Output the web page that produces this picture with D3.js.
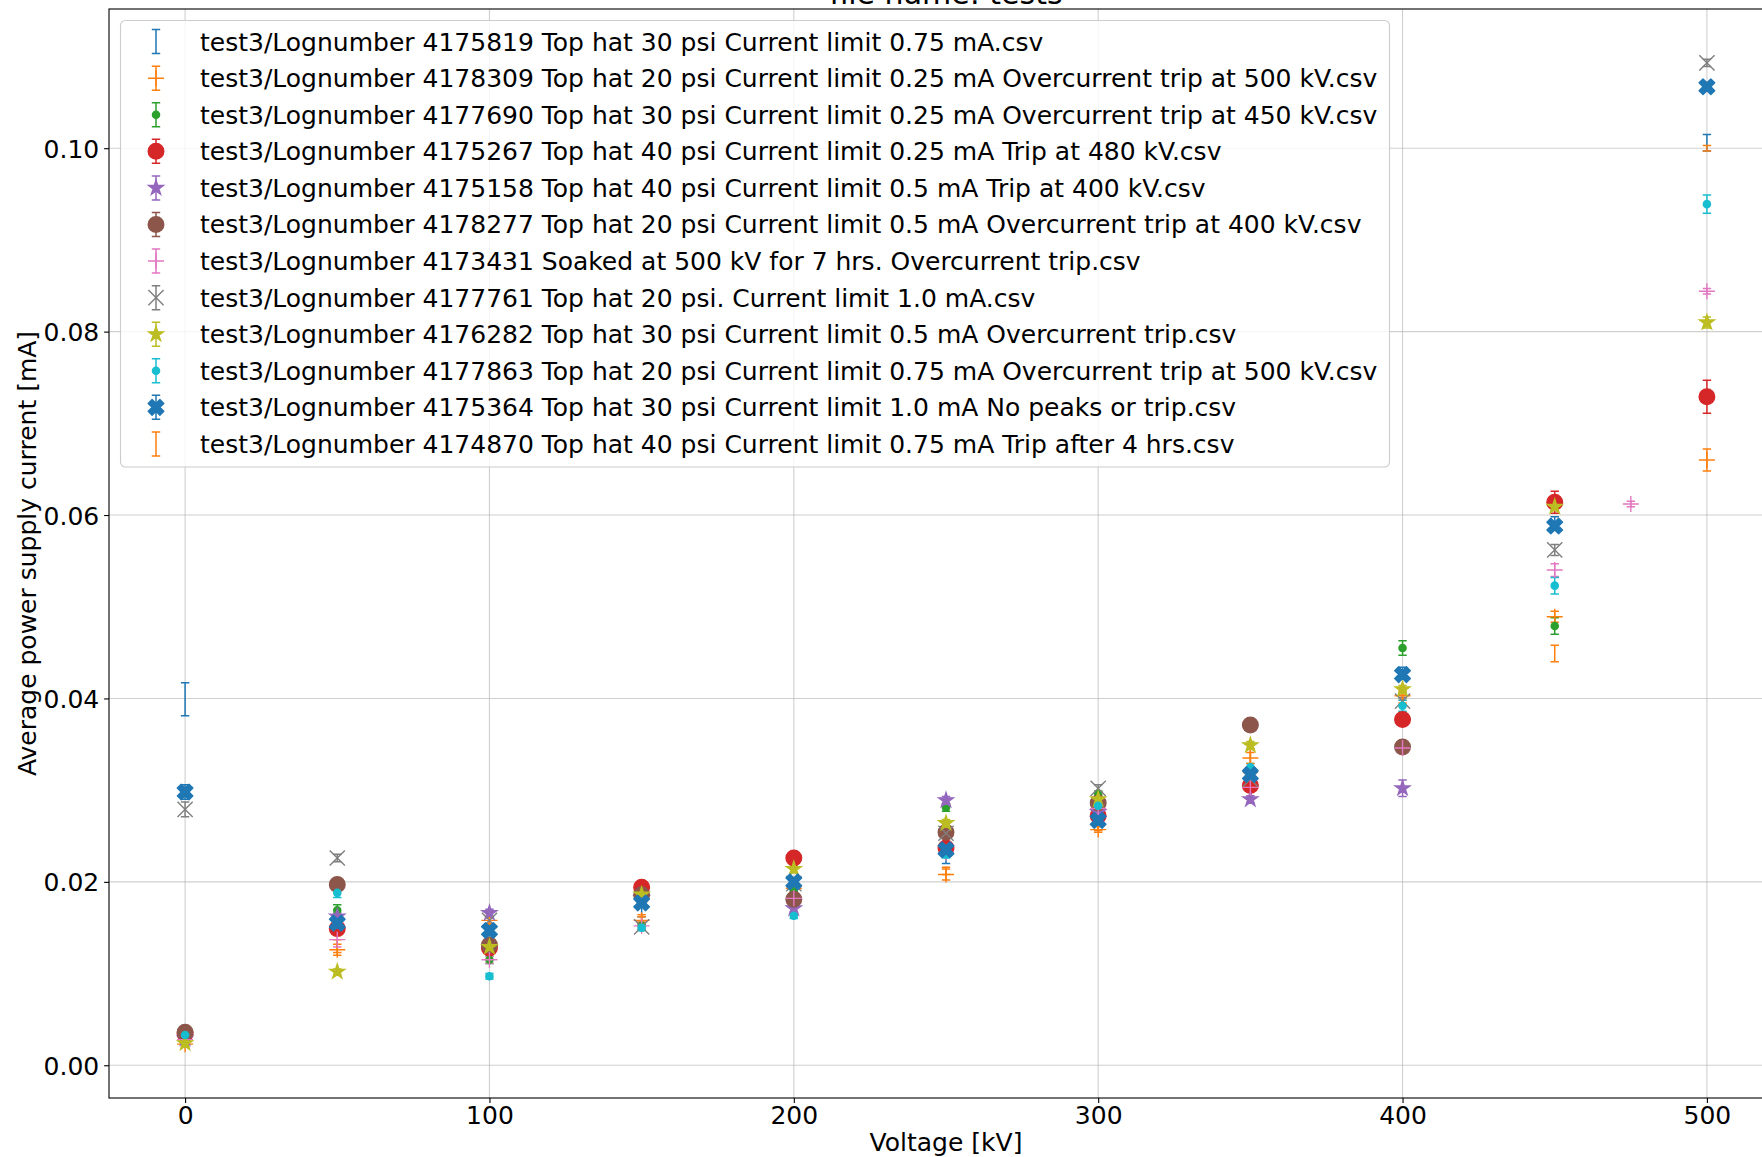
<!DOCTYPE html>
<html><head><meta charset="utf-8">
<script src="https://cdn.jsdelivr.net/npm/d3@7"></script>
<style>body{margin:0;background:#fff;overflow:hidden} svg{display:block;font-family:"DejaVu Sans",sans-serif;}</style>
</head><body><svg id="c" width="1762" height="1157"></svg>
<script>
// ---------------- data ----------------
const chartTitle = "file name: tests";
const xLabel = "Voltage [kV]";
const yLabel = "Average power supply current [mA]";
const xTicks = [0, 100, 200, 300, 400, 500];
const yTicks = [0.00, 0.02, 0.04, 0.06, 0.08, 0.10];

const voltages = [0, 50, 100, 150, 200, 250, 300, 350, 400, 450, 500];
const voltagesSoak = [0, 50, 100, 150, 200, 250, 300, 350, 400, 450, 475, 500];

const seriesNames = [
  "test3/Lognumber 4175819 Top hat 30 psi Current limit 0.75 mA.csv",
  "test3/Lognumber 4178309 Top hat 20 psi Current limit 0.25 mA Overcurrent trip at 500 kV.csv",
  "test3/Lognumber 4177690 Top hat 30 psi Current limit 0.25 mA Overcurrent trip at 450 kV.csv",
  "test3/Lognumber 4175267 Top hat 40 psi Current limit 0.25 mA Trip at 480 kV.csv",
  "test3/Lognumber 4175158 Top hat 40 psi Current limit 0.5 mA Trip at 400 kV.csv",
  "test3/Lognumber 4178277 Top hat 20 psi Current limit 0.5 mA Overcurrent trip at 400 kV.csv",
  "test3/Lognumber 4173431 Soaked at 500 kV for 7 hrs. Overcurrent trip.csv",
  "test3/Lognumber 4177761 Top hat 20 psi. Current limit 1.0 mA.csv",
  "test3/Lognumber 4176282 Top hat 30 psi Current limit 0.5 mA Overcurrent trip.csv",
  "test3/Lognumber 4177863 Top hat 20 psi Current limit 0.75 mA Overcurrent trip at 500 kV.csv",
  "test3/Lognumber 4175364 Top hat 30 psi Current limit 1.0 mA No peaks or trip.csv",
  "test3/Lognumber 4174870 Top hat 40 psi Current limit 0.75 mA Trip after 4 hrs.csv"
];
const seriesColors = ["#1f77b4","#ff7f0e","#2ca02c","#d62728","#9467bd","#8c564b","#e377c2","#7f7f7f","#bcbd22","#17becf","#1f77b4","#ff7f0e"];
const seriesMarkers = ["none","+",".","o","*","o","+","x","*",".","X","none"];

const cur4175819 = [0.0399, 0.0155, 0.0145, 0.0172, 0.0200, 0.0228, 0.0266, 0.0318, 0.0428, 0.0592, 0.1006];
const err4175819 = [0.0018, 0.0004, 0.0004, 0.0010, 0.0004, 0.0008, 0.0004, 0.0005, 0.0006, 0.0006, 0.0009];
const cur4178309 = [0.0023, 0.0126, 0.0158, 0.0158, 0.0193, 0.0208, 0.0257, 0.0335, 0.0403, 0.0489, 0.0660];
const err4178309 = [0.0003, 0.0006, 0.0004, 0.0004, 0.0004, 0.0006, 0.0003, 0.0010, 0.0005, 0.0006, 0.0012];
const cur4177690 = [0.0030, 0.0169, 0.0115, 0.0152, 0.0190, 0.0281, 0.0296, 0.0312, 0.0455, 0.0479];
const err4177690 = [0.0003, 0.0006, 0.0004, 0.0004, 0.0004, 0.0004, 0.0003, 0.0004, 0.0008, 0.0009];
const cur4175267 = [0.0034, 0.0149, 0.0128, 0.0194, 0.0226, 0.0237, 0.0272, 0.0305, 0.0377, 0.0614, 0.0729];
const err4175267 = [0.0003, 0.0004, 0.0004, 0.0004, 0.0004, 0.0005, 0.0005, 0.0005, 0.0005, 0.0012, 0.0018];
const cur4175158 = [0.0029, 0.0162, 0.0166, 0.0182, 0.0171, 0.0289, 0.0276, 0.0290, 0.0302];
const err4175158 = [0.0003, 0.0004, 0.0004, 0.0004, 0.0004, 0.0004, 0.0004, 0.0004, 0.0009];
const cur4178277 = [0.0036, 0.0197, 0.0131, 0.0186, 0.0181, 0.0254, 0.0286, 0.0371, 0.0347];
const err4178277 = [0.0003, 0.0005, 0.0004, 0.0004, 0.0004, 0.0004, 0.0004, 0.0004, 0.0005];
const cur4173431 = [0.0028, 0.0137, 0.0115, 0.0152, 0.0182, 0.0232, 0.0280, 0.0303, 0.0346, 0.0540, 0.0612, 0.0844];
const err4173431 = [0.0003, 0.0008, 0.0004, 0.0004, 0.0004, 0.0004, 0.0004, 0.0004, 0.0004, 0.0007, 0.0003, 0.0003];
const cur4177761 = [0.0279, 0.0226, 0.0158, 0.0151, 0.0198, 0.0253, 0.0302, 0.0312, 0.0397, 0.0562, 0.1093];
const err4177761 = [0.0008, 0.0004, 0.0004, 0.0004, 0.0004, 0.0004, 0.0004, 0.0004, 0.0004, 0.0006, 0.0004];
const cur4176282 = [0.0024, 0.0102, 0.0129, 0.0186, 0.0214, 0.0264, 0.0290, 0.0349, 0.0410, 0.0609, 0.0810];
const err4176282 = [0.0003, 0.0003, 0.0004, 0.0004, 0.0004, 0.0004, 0.0004, 0.0004, 0.0004, 0.0004, 0.0006];
const cur4177863 = [0.0033, 0.0188, 0.0097, 0.0150, 0.0163, 0.0230, 0.0283, 0.0325, 0.0392, 0.0523, 0.0939];
const err4177863 = [0.0003, 0.0005, 0.0003, 0.0003, 0.0003, 0.0004, 0.0004, 0.0004, 0.0006, 0.0009, 0.0010];
const cur4175364 = [0.0298, 0.0155, 0.0147, 0.0177, 0.0200, 0.0235, 0.0267, 0.0317, 0.0426, 0.0588, 0.1067];
const err4175364 = [0.0008, 0.0004, 0.0004, 0.0004, 0.0004, 0.0004, 0.0004, 0.0004, 0.0004, 0.0004, 0.0003];
const cur4174870 = [0.0023, 0.0130, 0.0158, 0.0160, 0.0192, 0.0212, 0.0260, 0.0335, 0.0400, 0.0449, 0.1000];
const err4174870 = [0.0003, 0.0007, 0.0004, 0.0004, 0.0004, 0.0004, 0.0004, 0.0006, 0.0005, 0.0009, 0.0003];

const seriesCurrents = [cur4175819, cur4178309, cur4177690, cur4175267, cur4175158, cur4178277, cur4173431, cur4177761, cur4176282, cur4177863, cur4175364, cur4174870];
const seriesErrors = [err4175819, err4178309, err4177690, err4175267, err4175158, err4178277, err4173431, err4177761, err4176282, err4177863, err4175364, err4174870];
const seriesVoltages = [voltages, voltages, voltages, voltages, voltages, voltages, voltagesSoak, voltages, voltages, voltages, voltages, voltages];

// --------------- layout ---------------
const W = 1762, H = 1157;
const ax = {left: 109, top: 9, right: 1783, bottom: 1098};
const FS = 25;

const x = d3.scaleLinear().domain([-25, 525]).range([ax.left, ax.right]);
const y = d3.scaleLinear().domain([-0.00357, 0.11518]).range([ax.bottom, ax.top]);

const svg = d3.select("#c");
svg.append("rect").attr("width", W).attr("height", H).attr("fill", "#fff");

const clipId = "plotclip";
svg.append("clipPath").attr("id", clipId).append("rect")
  .attr("x", ax.left).attr("y", ax.top).attr("width", ax.right - ax.left).attr("height", ax.bottom - ax.top);

// grid
const grid = svg.append("g").attr("clip-path", `url(#${clipId})`);
grid.selectAll("line.gx").data(xTicks).join("line")
  .attr("x1", d => x(d)).attr("x2", d => x(d)).attr("y1", ax.top).attr("y2", ax.bottom)
  .attr("stroke", "#b0b0b0").attr("stroke-width", 1.1).attr("stroke-opacity", 0.6);
grid.selectAll("line.gy").data(yTicks).join("line")
  .attr("y1", d => y(d)).attr("y2", d => y(d)).attr("x1", ax.left).attr("x2", ax.right)
  .attr("stroke", "#b0b0b0").attr("stroke-width", 1.1).attr("stroke-opacity", 0.6);

// axes
const xAxis = d3.axisBottom(x).tickValues(xTicks).tickFormat(d3.format("d")).tickSizeInner(4.9).tickSizeOuter(0).tickPadding(4.9);
const yAxis = d3.axisLeft(y).tickValues(yTicks).tickFormat(d3.format(".2f")).tickSizeInner(4.9).tickSizeOuter(0).tickPadding(4.9);
const gx = svg.append("g").attr("transform", `translate(0,${ax.bottom})`).call(xAxis);
const gy = svg.append("g").attr("transform", `translate(${ax.left},0)`).call(yAxis);
[gx, gy].forEach(g => {
  g.select(".domain").remove();
  g.selectAll(".tick line").attr("stroke", "#000").attr("stroke-width", 1.1);
  g.selectAll(".tick text").attr("fill", "#000").attr("font-size", FS).attr("font-family", "DejaVu Sans");
});
gx.selectAll(".tick text").attr("dy", "0.66em");
gy.selectAll(".tick text").attr("dy", "0.36em");

// spines
svg.append("rect").attr("x", ax.left).attr("y", ax.top).attr("width", ax.right - ax.left).attr("height", ax.bottom - ax.top)
  .attr("fill", "none").attr("stroke", "#000").attr("stroke-width", 1.1);

// labels
svg.append("text").attr("x", (ax.left + ax.right) / 2).attr("y", 4).attr("text-anchor", "middle")
  .attr("font-size", 30).text(chartTitle);
svg.append("text").attr("x", (ax.left + ax.right) / 2).attr("y", 1151).attr("text-anchor", "middle")
  .attr("font-size", FS).text(xLabel);
svg.append("text").attr("transform", `translate(36,${(ax.top + ax.bottom) / 2}) rotate(-90)`).attr("text-anchor", "middle")
  .attr("font-size", FS).text(yLabel);

// markers
function starPath(R) {
  const r = R * 0.381966, pts = [];
  for (let i = 0; i < 10; i++) {
    const a = -Math.PI / 2 + i * Math.PI / 5, rr = i % 2 ? r : R;
    pts.push([rr * Math.cos(a), rr * Math.sin(a)]);
  }
  return "M" + pts.map(p => p.join(",")).join("L") + "Z";
}
function xFilledPath(u) {
  const pts = [[-1,-2],[0,-1],[1,-2],[2,-1],[1,0],[2,1],[1,2],[0,1],[-1,2],[-2,1],[-1,0],[-2,-1]];
  return "M" + pts.map(p => [p[0]*u, p[1]*u].join(",")).join("L") + "Z";
}
function drawMarker(g, type, color, cx, cy) {
  const sw = 1.4;
  if (type === "o") {
    g.append("circle").attr("cx", cx).attr("cy", cy).attr("r", 7.8).attr("fill", color).attr("stroke", color).attr("stroke-width", sw);
  } else if (type === ".") {
    g.append("circle").attr("cx", cx).attr("cy", cy).attr("r", 3.6).attr("fill", color).attr("stroke", color).attr("stroke-width", sw);
  } else if (type === "*") {
    g.append("path").attr("d", starPath(7.7)).attr("transform", `translate(${cx},${cy})`).attr("fill", color).attr("stroke", color).attr("stroke-width", sw).attr("stroke-linejoin", "miter");
  } else if (type === "X") {
    g.append("path").attr("d", xFilledPath(3.9)).attr("transform", `translate(${cx},${cy})`).attr("fill", color).attr("stroke", color).attr("stroke-width", sw).attr("stroke-linejoin", "round");
  } else if (type === "x") {
    const s = 7.6;
    g.append("path").attr("d", `M${cx-s},${cy-s}L${cx+s},${cy+s}M${cx-s},${cy+s}L${cx+s},${cy-s}`).attr("stroke", color).attr("stroke-width", sw).attr("fill", "none");
  } else if (type === "+") {
    const s = 8;
    g.append("path").attr("d", `M${cx-s},${cy}L${cx+s},${cy}M${cx},${cy-s}L${cx},${cy+s}`).attr("stroke", color).attr("stroke-width", sw).attr("fill", "none");
  }
}
function drawErrorBar(g, color, cx, yTop, yBot) {
  const cap = 4.2;
  g.append("path").attr("d", `M${cx},${yTop}L${cx},${yBot}M${cx-cap},${yTop}L${cx+cap},${yTop}M${cx-cap},${yBot}L${cx+cap},${yBot}`)
    .attr("stroke", color).attr("stroke-width", 1.5).attr("fill", "none");
}

const plot = svg.append("g").attr("clip-path", `url(#${clipId})`);
const barsLayer = plot.append("g");
const markLayer = plot.append("g");

seriesNames.forEach((name, i) => {
  const vs = seriesVoltages[i], cs = seriesCurrents[i], es = seriesErrors[i];
  cs.forEach((c, j) => {
    drawErrorBar(barsLayer, seriesColors[i], x(vs[j]), y(c + es[j]), y(c - es[j]));
  });
});
seriesNames.forEach((name, i) => {
  const vs = seriesVoltages[i], cs = seriesCurrents[i];
  cs.forEach((c, j) => drawMarker(markLayer, seriesMarkers[i], seriesColors[i], x(vs[j]), y(c)));
});

// legend
const lg = svg.append("g");
lg.append("rect").attr("x", 120.5).attr("y", 20.5).attr("width", 1269).attr("height", 446.5).attr("rx", 5)
  .attr("fill", "#fff").attr("fill-opacity", 0.8).attr("stroke", "#cccccc").attr("stroke-width", 1.1);
const rowY0 = 41.6, rowStep = 32.55 * 1762 / 1568;
seriesNames.forEach((name, i) => {
  const cy = rowY0 + i * rowStep, cx = 156;
  drawErrorBar(lg, seriesColors[i], cx, cy - 12, cy + 12);
  drawMarker(lg, seriesMarkers[i], seriesColors[i], cx, cy);
  lg.append("text").attr("x", 200).attr("y", cy).attr("dy", "0.36em").attr("font-size", FS).attr("fill", "#000").text(name);
});
</script></body></html>
